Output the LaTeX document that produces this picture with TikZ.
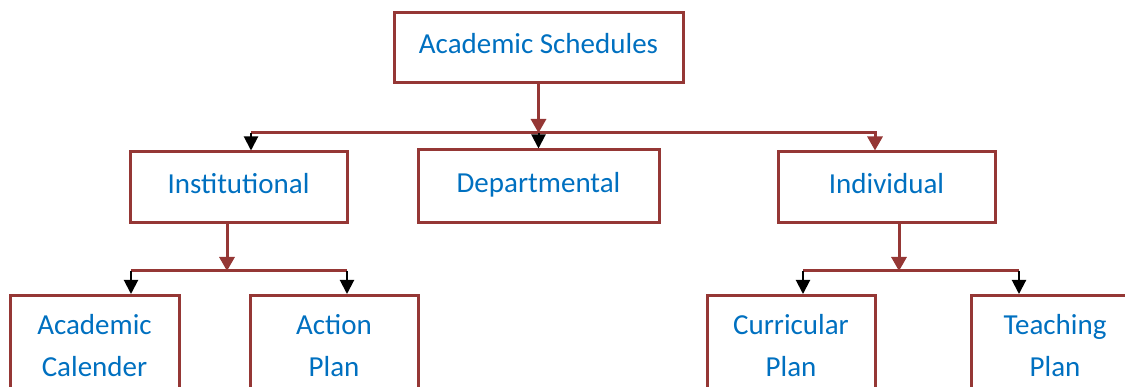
\documentclass[tikz,border=0pt]{standalone}
\usepackage{fontspec}
\setmainfont{Carlito}
\usetikzlibrary{arrows.meta}
\usetikzlibrary{positioning}
\definecolor{boxred}{HTML}{953735}
\definecolor{textblue}{HTML}{0070C0}

\begin{document}
\begin{tikzpicture}[x=1pt,y=-1pt,
    box/.style={draw=boxred, line width=3pt, text=textblue, font=\fontsize{29}{42}\selectfont, align=center, inner sep=0pt},
    onebox/.style={box, text depth=9pt},
    redlink/.style={draw=boxred, line width=3pt},
    redarrow/.style={redlink, -{Triangle[width=15pt,length=14pt]}},
    blackarrow/.style={draw=black, line width=2pt, -{Triangle[width=14pt,length=14pt]}}]
    \useasboundingbox (0,0) rectangle (1125,387);
    \clip (0,0) rectangle (1125,387);

    \node[onebox, minimum width=289pt, minimum height=70pt] (sched) at (538.5,48) {Academic Schedules};
    \node[onebox, minimum width=217pt, minimum height=71pt] (inst) at (238.5,187.5) {Institutional};
    \node[onebox, minimum width=241pt, minimum height=73pt] (dept) at (538.5,186.5) {Departmental};
    \node[onebox, minimum width=217pt, minimum height=71pt] (indiv) at (886.5,187.5) {Individual};
    \node[box, minimum width=169pt, minimum height=100pt, anchor=north] (calendar) at (94.5,294) {Academic\\Calender};
    \node[box, minimum width=168pt, minimum height=100pt, anchor=north] (action) at (334,294) {Action\\Plan};
    \node[box, minimum width=168pt, minimum height=100pt, anchor=north] (curric) at (791,294) {Curricular\\Plan};
    \node[box, minimum width=168pt, minimum height=100pt, anchor=north] (teach) at (1055,294) {Teaching\\Plan};

    \coordinate (hub) at (538.5,133);
    \coordinate (hubL) at (251,133);
    \coordinate (hubR) at (875,133);
    \coordinate (instHub) at (227,271);
    \coordinate (instL) at (131,271);
    \coordinate (instR) at (347,271);
    \coordinate (indivHub) at (899,271);
    \coordinate (indivL) at (803,271);
    \coordinate (indivR) at (1019,271);

    \draw[redlink] (hubL) -- (hub);
    \draw[redarrow] (hub) -| (hubR |- indiv.north);
    \draw[blackarrow] (hubL) -- (hubL |- inst.north);
    \draw[blackarrow] (hub) -- (dept.north);
    \draw[redarrow] (sched) -- (hub);

    \draw[redlink] (instL) -- (instR);
    \draw[blackarrow] (instL) -- (instL |- calendar.north);
    \draw[blackarrow] (instR) -- (instR |- action.north);
    \draw[redarrow] (inst.south -| instHub) -- (instHub);

    \draw[redlink] (indivL) -- (indivR);
    \draw[blackarrow] (indivL) -- (indivL |- curric.north);
    \draw[blackarrow] (indivR) -- (indivR |- teach.north);
    \draw[redarrow] (indiv.south -| indivHub) -- (indivHub);
\end{tikzpicture}
\end{document}
